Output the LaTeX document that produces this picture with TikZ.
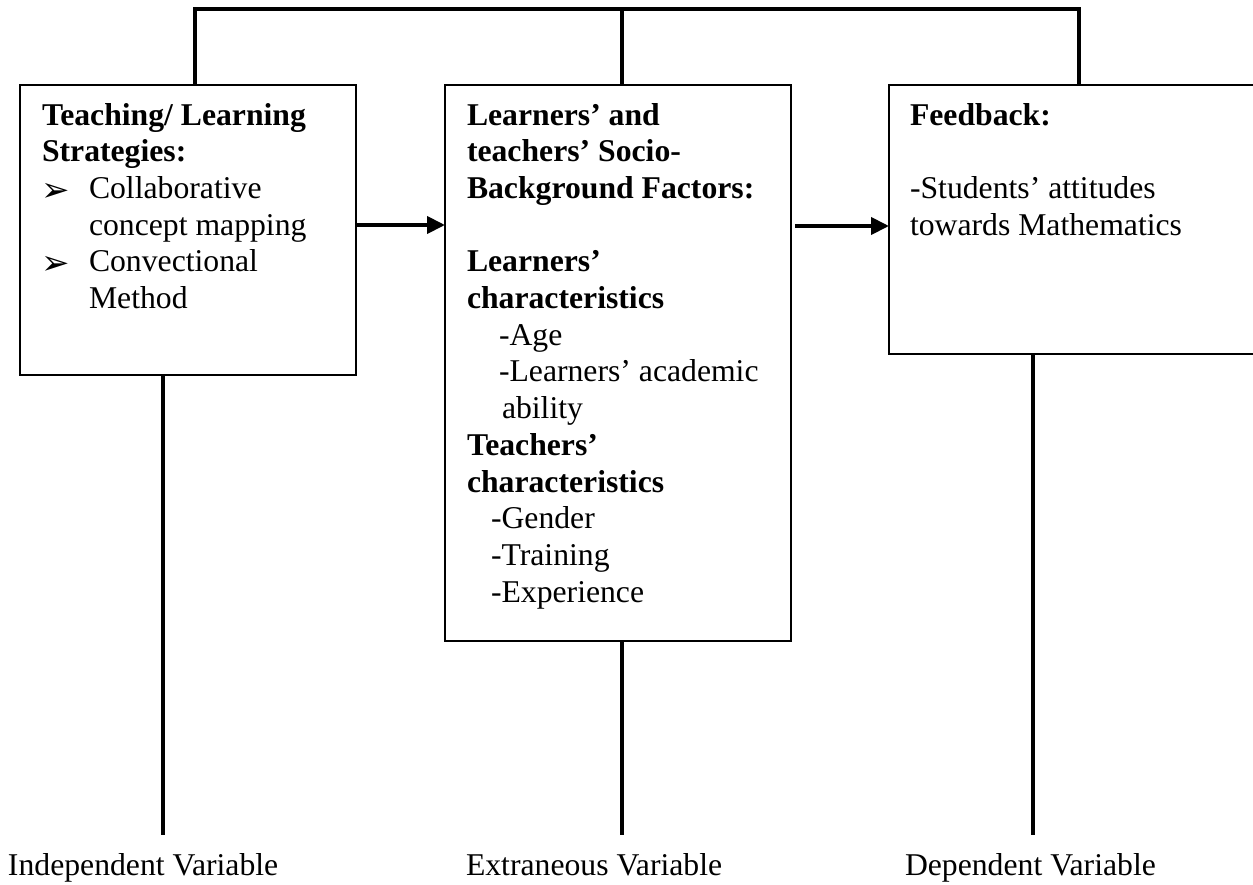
\documentclass[tikz,border=0pt]{standalone}
\usepackage{fontspec}
\setmainfont{Liberation Serif}
\newfontfamily\symfont{DejaVu Sans}
\usetikzlibrary{arrows.meta}
\newcommand\mainfs{\fontsize{31.7pt}{36.7pt}\selectfont}
\newcommand\bulletglyph{{\symfont\fontsize{34pt}{34pt}\selectfont ➢}}
\tikzset{
  box/.style={draw, line width=1.4pt, inner sep=0pt, outer sep=0pt},
  conn/.style={line width=4pt},
  arr/.style={conn, -{Triangle[length=18pt,width=17pt]}},
  txt/.style={anchor=base west, inner sep=0pt, outer sep=0pt, font=\mainfs},
  btxt/.style={txt, font=\mainfs\bfseries},
}
\begin{document}
\begin{tikzpicture}[x=1pt,y=-1pt]
\useasboundingbox (0,0) rectangle (1253,884);
\fill[white] (0,0) rectangle (1253,884);

% boxes
\node[box, minimum width=336pt, minimum height=290pt] (b1) at (188,230) {};
\node[box, minimum width=346pt, minimum height=556pt] (b2) at (618,363) {};
\node[box, minimum width=373pt, minimum height=269pt] (b3) at (1075.5,219.5) {};

% top connector
\coordinate (top) at (622,9);
\draw[conn] ([xshift=7pt]b1.north) |- (top) -| ([xshift=3.5pt]b3.north);
\draw[conn] ([xshift=4pt]b2.north) -- (top);

% arrows
\draw[arr] (b1.east |- 0,225) -- (b2.west |- 0,225);
\draw[arr, shorten <=4pt] (b2.east |- 0,226) -- (b3.west |- 0,226);

% bottom connectors
\coordinate (c1) at (163,835);
\coordinate (c2) at (622,835);
\coordinate (c3) at (1033,835);
\draw[conn] (b1.south -| c1) -- (c1);
\draw[conn] (b2.south -| c2) -- (c2);
\draw[conn] (b3.south -| c3) -- (c3);

% labels
\node[txt] (l1) at (8,875) {Independent Variable};
\node[txt] (l2) at (466,875) {Extraneous Variable};
\node[txt] (l3) at (905,875) {Dependent Variable};

% box 1 text
\node[btxt] (a1) at (42,125) {Teaching/ Learning};
\node[btxt] (a2) at (42,161.7) {Strategies:};
\node[txt] (a3b) at (41,201) {\bulletglyph};
\node[txt] (a3) at (89,198.4) {Collaborative};
\node[txt] (a4) at (89,235.1) {concept mapping};
\node[txt] (a5b) at (41,274.4) {\bulletglyph};
\node[txt] (a5) at (89,271.8) {Convectional};
\node[txt] (a6) at (89,308.5) {Method};

% box 2 text
\node[btxt] (m1) at (467,125) {Learners’ and};
\node[btxt] (m2) at (467,161.7) {teachers’ Socio-};
\node[btxt] (m3) at (467,198.4) {Background Factors:};
\node[btxt] (m4) at (467,271.8) {Learners’};
\node[btxt] (m5) at (467,308.5) {characteristics};
\node[txt] (m6) at (499,345.2) {-Age};
\node[txt] (m7) at (499,381.9) {-Learners’ academic};
\node[txt] (m8) at (502,418.6) {ability};
\node[btxt] (m9) at (467,455.3) {Teachers’};
\node[btxt] (m10) at (467,492) {characteristics};
\node[txt] (m11) at (491,528.7) {-Gender};
\node[txt] (m12) at (491,565.4) {-Training};
\node[txt] (m13) at (491,602.1) {-Experience};

% box 3 text
\node[btxt] (f1) at (910,125) {Feedback:};
\node[txt] (f2) at (910,198.4) {-Students’ attitudes};
\node[txt] (f3) at (910,235.1) {towards Mathematics};
\end{tikzpicture}
\end{document}
